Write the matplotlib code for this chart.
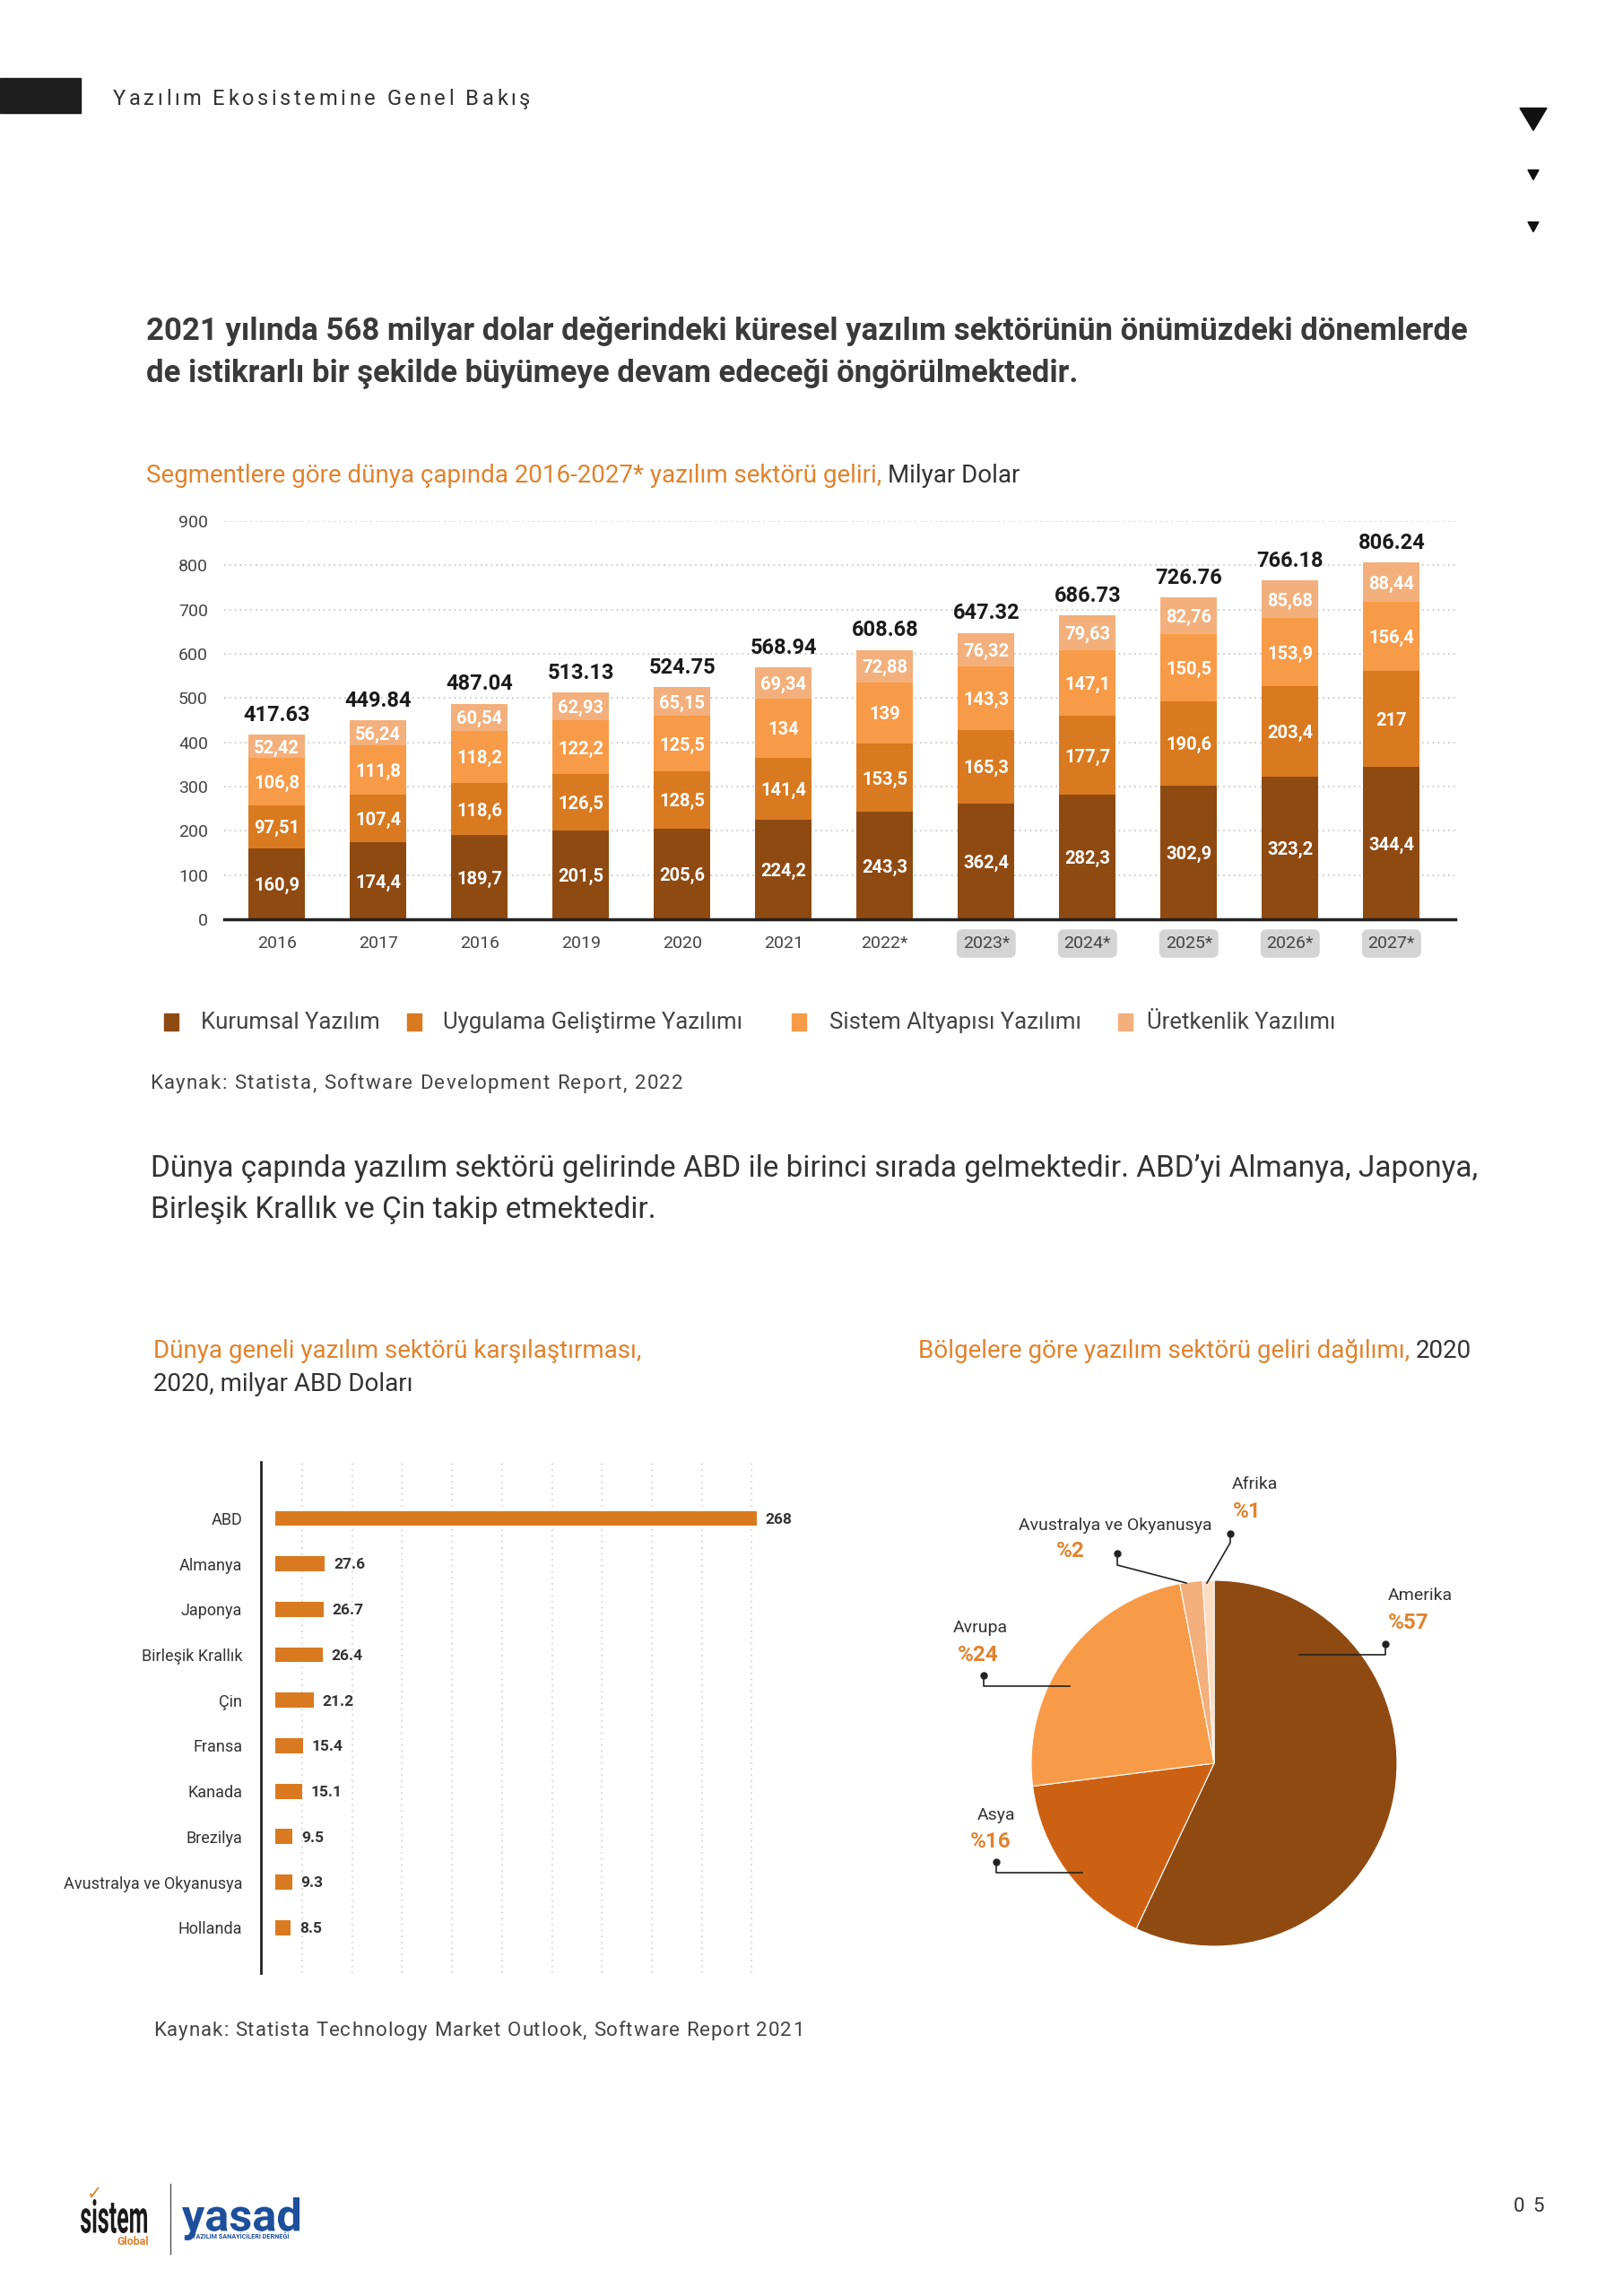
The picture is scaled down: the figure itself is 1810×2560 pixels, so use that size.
import matplotlib
matplotlib.use('Agg')
import matplotlib.pyplot as plt
from matplotlib.patches import Rectangle, Polygon, PathPatch
from matplotlib.lines import Line2D
from matplotlib.text import Annotation
from matplotlib.textpath import TextPath
from matplotlib.font_manager import FontProperties
from matplotlib.transforms import Affine2D
import numpy as np

plt.rcParams['font.family'] = ['Roboto', 'DejaVu Sans']

# ---- data: segment revenue (billion USD) ----
years = ['2016', '2017', '2016', '2019', '2020', '2021', '2022*',
         '2023*', '2024*', '2025*', '2026*', '2027*']
kurumsal = [160.9, 174.4, 189.7, 201.5, 205.6, 224.2, 243.3, 262.4, 282.3, 302.9, 323.2, 344.4]
uygulama = [97.51, 107.4, 118.6, 126.5, 128.5, 141.4, 153.5, 165.3, 177.7, 190.6, 203.4, 217]
sistem = [106.8, 111.8, 118.2, 122.2, 125.5, 134, 139, 143.3, 147.1, 150.5, 153.9, 156.4]
uretkenlik = [52.42, 56.24, 60.54, 62.93, 65.15, 69.34, 72.88, 76.32, 79.63, 82.76, 85.68, 88.44]
segment_names = ['Kurumsal Yazılım', 'Uygulama Geliştirme Yazılımı',
                 'Sistem Altyapısı Yazılımı', 'Üretkenlik Yazılımı']
# the printed label on the 2023* Kurumsal segment reads 362,4 (total implies 262,4)
label_override = {(0, 7): '362,4'}

# ---- data: countries 2020 ----
countries = ['ABD', 'Almanya', 'Japonya', 'Birleşik Krallık', 'Çin', 'Fransa',
             'Kanada', 'Brezilya', 'Avustralya ve Okyanusya', 'Hollanda']
country_vals = [268, 27.6, 26.7, 26.4, 21.2, 15.4, 15.1, 9.5, 9.3, 8.5]

# ---- data: regions 2020 ----
regions = ['Amerika', 'Asya', 'Avrupa', 'Avustralya ve Okyanusya', 'Afrika']
region_share = [57, 16, 24, 2, 1]

seg_colors = ['#8F4A12', '#D97A20', '#F89B48', '#F3B07C']
pie_colors = ['#8F4A12', '#CD6113', '#F89B48', '#F3B07C', '#FCDCC2']
DARK = '#333333'
ORANGE = '#E0832F'

W, H = 1810, 2560
fig = plt.figure(figsize=(W / 100, H / 100), dpi=100)
renderer = fig.canvas.get_renderer()
px_trans = Affine2D().scale(1 / W, 1 / H) + fig.transFigure


def fx(px):
    return px / W


def fy(py):
    return 1 - py / H


def ftext(px, py, s, **kw):
    return fig.text(fx(px), fy(py), s, **kw)


def tracked(px, py, s, track, **kw):
    # letter-spaced text, py is the baseline
    probe = fig.text(0, 0, '|', **kw)
    bar_w = probe.get_window_extent(renderer).width
    for i, ch in enumerate(s):
        w = 0
        if i:
            probe.set_text(s[:i] + '|')
            w = probe.get_window_extent(renderer).width - bar_w
        if ch != ' ':
            fig.text(fx(px + w + i * track), fy(py), ch, va='baseline', **kw)
    probe.remove()


def two_color(px, py, s1, s2, size, c1=ORANGE, c2=DARK):
    t1 = ftext(px, py, s1, fontsize=size, color=c1, va='baseline')
    t2 = Annotation(s2, xy=(1, 0), xycoords=t1, xytext=(5, 0),
                    textcoords='offset points', fontsize=size, color=c2, va='bottom')
    fig.add_artist(t2)


def boxed_word(s, x0, y0, x1, y1, color, weight='bold'):
    # word stretched to fill a pixel box (logo lettering)
    tp = TextPath((0, 0), s, size=100, prop=FontProperties(family='Roboto', weight=weight))
    bb = tp.get_extents()
    tr = (Affine2D().translate(-bb.x0, -bb.y0)
          .scale((x1 - x0) / bb.width, (y1 - y0) / bb.height)
          .translate(x0, H - y1))
    fig.add_artist(PathPatch(tr.transform_path(tp), transform=px_trans, color=color, lw=0))


# ---- page header ----
fig.add_artist(Rectangle((0, fy(126)), fx(90), 39 / H, transform=fig.transFigure,
                         color='#1E1E1E'))
tracked(126, 117, 'Yazılım Ekosistemine Genel Bakış', 3.6, fontsize=17, color=DARK)
for cy, w, h in [(133, 30, 25), (195, 12, 11), (253, 12, 11)]:
    fig.add_artist(Polygon([(fx(1710 - w / 2), fy(cy - h / 2)), (fx(1710 + w / 2), fy(cy - h / 2)),
                            (fx(1710), fy(cy + h / 2))], transform=fig.transFigure,
                           color='#111111'))

ftext(163, 379, '2021 yılında 568 milyar dolar değerindeki küresel yazılım sektörünün önümüzdeki dönemlerde',
      fontsize=25, fontweight='bold', color='#3a3a3a', va='baseline')
ftext(163, 425, 'de istikrarlı bir şekilde büyümeye devam edeceği öngörülmektedir.',
      fontsize=25, fontweight='bold', color='#3a3a3a', va='baseline')

two_color(163, 538, 'Segmentlere göre dünya çapında 2016-2027* yazılım sektörü geliri,',
          'Milyar Dolar', 20)

# ---- stacked bar chart ----
ax = fig.add_axes([fx(250), fy(1025), (1623 - 250) / W, (1025 - 581) / H])
x = np.arange(len(years))
bottom = np.zeros(len(years))
for j, vals in enumerate([kurumsal, uygulama, sistem, uretkenlik]):
    ax.bar(x, vals, width=0.56, bottom=bottom, color=seg_colors[j], zorder=3)
    for i, v in enumerate(vals):
        lab = label_override.get((j, i), ('%g' % v).replace('.', ','))
        ax.text(i, bottom[i] + v / 2, lab, ha='center', va='center_baseline', color='white',
                fontsize=14.5, fontweight='bold', zorder=4)
    bottom += np.array(vals)
for i, t in enumerate(bottom):
    ax.annotate('%.2f' % t, (i, t), xytext=(0, 11), textcoords='offset points',
                ha='center', va='baseline', fontsize=17, fontweight='bold', color='#1a1a1a')
ax.set_xlim(-0.52, 11.63)
ax.set_ylim(0, 900)
ax.set_yticks(range(0, 1000, 100))
ax.yaxis.grid(True, ls=(0, (1, 2.5)), color='#c4c4c4', lw=1.2, zorder=0)
ax.tick_params(axis='both', length=0, labelsize=14, labelcolor='#444444')
ax.tick_params(axis='y', pad=13)
ax.tick_params(axis='x', pad=13)
ax.set_xticks(x, years)
for lab in ax.get_xticklabels()[7:]:
    lab.set_bbox(dict(boxstyle='round,pad=0.35', fc='#d4d4d4', ec='none'))
for s in ['top', 'right', 'left']:
    ax.spines[s].set_visible(False)
ax.spines['bottom'].set_linewidth(2.5)
ax.spines['bottom'].set_color('#222222')
ax.spines['bottom'].set_zorder(5)

# legend
for sx, tx, name, col in zip([183, 454, 883, 1247], [224, 494, 925, 1279],
                             segment_names, seg_colors):
    fig.add_artist(Rectangle((fx(sx), fy(1149)), 16 / W, 19 / H,
                             transform=fig.transFigure, color=col))
    ftext(tx, 1140, name, fontsize=18.5, color='#444444', va='center')

tracked(167, 1214, 'Kaynak: Statista, Software Development Report, 2022', 1.4,
        fontsize=16, color='#444444')

ftext(168, 1312, 'Dünya çapında yazılım sektörü gelirinde ABD ile birinci sırada gelmektedir. '
      'ABD\u2019yi Almanya, Japonya,', fontsize=24, color=DARK, va='baseline')
ftext(168, 1358, 'Birleşik Krallık ve Çin takip etmektedir.', fontsize=24, color=DARK, va='baseline')

ftext(171, 1514, 'Dünya geneli yazılım sektörü karşılaştırması,', fontsize=20,
      color=ORANGE, va='baseline')
ftext(171, 1551, '2020, milyar ABD Doları', fontsize=20, color=DARK, va='baseline')
two_color(1024, 1514, 'Bölgelere göre yazılım sektörü geliri dağılımı,', '2020', 20)

# ---- horizontal bar chart ----
ax2 = fig.add_axes([fx(291), fy(2200), (870 - 291) / W, (2200 - 1630) / H])
y = np.arange(len(countries))
ax2.barh(y, country_vals, height=0.33, color='#D97A20', zorder=3)
for i, v in enumerate(country_vals):
    ax2.annotate('%g' % v, (v, i), xytext=(7, -1), textcoords='offset points',
                 va='center', fontsize=12.5, fontweight='bold', color=DARK)
ax2.set_xlim(-8, 281)
ax2.set_ylim(10.0, -1.24)
ax2.set_yticks(y, countries)
ax2.set_xticks(np.arange(15, 270, 27.8))
ax2.xaxis.grid(True, ls=(0, (1, 3)), color='#cfcfcf', lw=1.2, zorder=0)
ax2.tick_params(axis='x', length=0, labelbottom=False)
ax2.tick_params(axis='y', length=0, pad=15, labelsize=13, labelcolor=DARK)
for s in ['top', 'right', 'bottom']:
    ax2.spines[s].set_visible(False)
ax2.spines['left'].set_linewidth(2)
ax2.spines['left'].set_color('#222222')

tracked(171, 2270, 'Kaynak: Statista Technology Market Outlook, Software Report 2021', 1.0,
        fontsize=16, color='#444444')

# ---- pie chart ----
R = 204
ax3 = fig.add_axes([fx(1354 - R), fy(1966 + R), 2 * R / W, 2 * R / H])
ax3.pie(region_share, colors=pie_colors, startangle=90, counterclock=False, radius=1,
        wedgeprops=dict(lw=0.8, ec='white'))
ax3.set_xlim(-1, 1)
ax3.set_ylim(-1, 1)
ax3.axis('off')

pie_labels = [  # name pos, pct pos, leader line (dot first)
    ((1548, 1779), (1548, 1809), [(1545, 1833), (1545, 1845), (1449, 1845)]),
    ((1090, 2024), (1082, 2054), [(1111, 2076), (1111, 2088), (1207, 2088)]),
    ((1063, 1815), (1068, 1846), [(1097, 1868), (1097, 1880), (1193, 1880)]),
    ((1136, 1701), (1178, 1730), [(1246, 1732), (1246, 1745), (1323, 1765)]),
    ((1374, 1655), (1375, 1685), [(1372, 1710), (1372, 1720), (1346, 1765)]),
]
for name, share, (npos, ppos, pts) in zip(regions, region_share, pie_labels):
    ftext(npos[0], npos[1], name, fontsize=14, color=DARK, va='center')
    ftext(ppos[0], ppos[1], '%%%d' % share, fontsize=17.5, fontweight='bold',
          color=ORANGE, va='center')
    fig.add_artist(Line2D([fx(p[0]) for p in pts], [fy(p[1]) for p in pts],
                          transform=fig.transFigure, color='#222222', lw=1.2))
    fig.add_artist(Line2D([fx(pts[0][0])], [fy(pts[0][1])], transform=fig.transFigure,
                          marker='o', ms=5, color='#222222'))

# ---- footer logos ----
boxed_word('sistem', 90, 2452, 164, 2490, '#1a1a1a')
ftext(97, 2452, '\u2713', fontsize=15, color=ORANGE, va='baseline', family='DejaVu Sans')
ftext(130, 2503, 'Global', fontsize=9, fontweight='bold', color=ORANGE, va='baseline')
fig.add_artist(Line2D([fx(190), fx(190)], [fy(2435), fy(2513)], transform=fig.transFigure,
                      color='#555555', lw=1))
boxed_word('yasad', 203, 2450, 334, 2498, '#1D4F9C')
ftext(214, 2496, 'YAZILIM SANAYİCİLERİ DERNEĞİ', fontsize=5.2, fontweight='bold',
      color='#1D4F9C', va='baseline')
tracked(1688, 2466, '0 5', 1.5, fontsize=16, color=DARK)

fig.savefig('out.png', dpi=100, facecolor='white')
